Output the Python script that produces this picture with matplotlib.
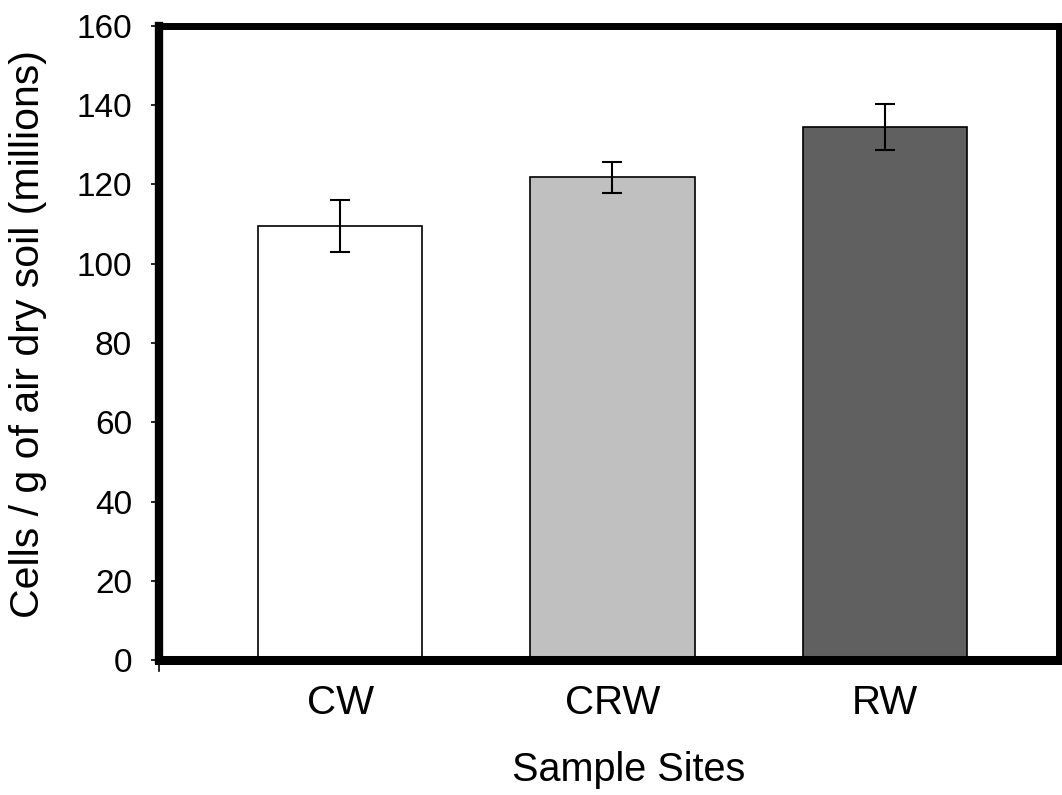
import numpy as np
import matplotlib.pyplot as plt
from matplotlib.lines import Line2D

plt.rcParams['font.family'] = ['Liberation Sans', 'DejaVu Sans']

# data
sites = ['CW', 'CRW', 'RW']
cells = [109.5, 121.8, 134.5]
errors = [6.5, 4.0, 5.7]
colors = ['#ffffff', '#c0c0c0', '#606060']

fig = plt.figure(figsize=(10.62, 7.95), dpi=100)
ax = fig.add_axes([159 / 1062, 1 - 660 / 795, (1059 - 159) / 1062, (660 - 26) / 795])

x = np.arange(len(sites))
ax.bar(x, cells, width=0.603, color=colors, edgecolor='black', linewidth=1.2, zorder=2)
ax.errorbar(x, cells, yerr=errors, fmt='none', ecolor='black', elinewidth=1.5,
            capsize=7, capthick=1.5, zorder=3)

ax.set_xlim(-0.665, 2.64)
ax.set_ylim(0, 160)
ax.set_yticks(np.arange(0, 161, 20))
ax.set_xticks(x)
ax.set_xticklabels(sites, fontsize=29)
ax.tick_params(axis='y', labelsize=24, direction='out', length=6, width=1.2, pad=13.5)
ax.tick_params(axis='x', length=0, pad=17)

ax.spines['left'].set_linewidth(6.0)
ax.spines['top'].set_linewidth(5.0)
ax.spines['bottom'].set_linewidth(6.5)
ax.spines['right'].set_linewidth(5.0)

# small tick at the left end of the x axis
ax.add_line(Line2D([-0.665, -0.665], [0, -2.8], color='black', linewidth=1.2, clip_on=False))

ax.set_ylabel('Cells / g of air dry soil (millions)', fontsize=29.5)
ax.yaxis.set_label_coords(-131 / 900, (660 - 334) / 634)
ax.set_xlabel('Sample Sites', fontsize=28.5, labelpad=22)
ax.xaxis.set_label_coords((629 - 159) / 900, -(770 - 660) / 634)
ax.xaxis.label.set_va('center')
ax.yaxis.label.set_va('center')

fig.savefig('out.png', dpi=100)
